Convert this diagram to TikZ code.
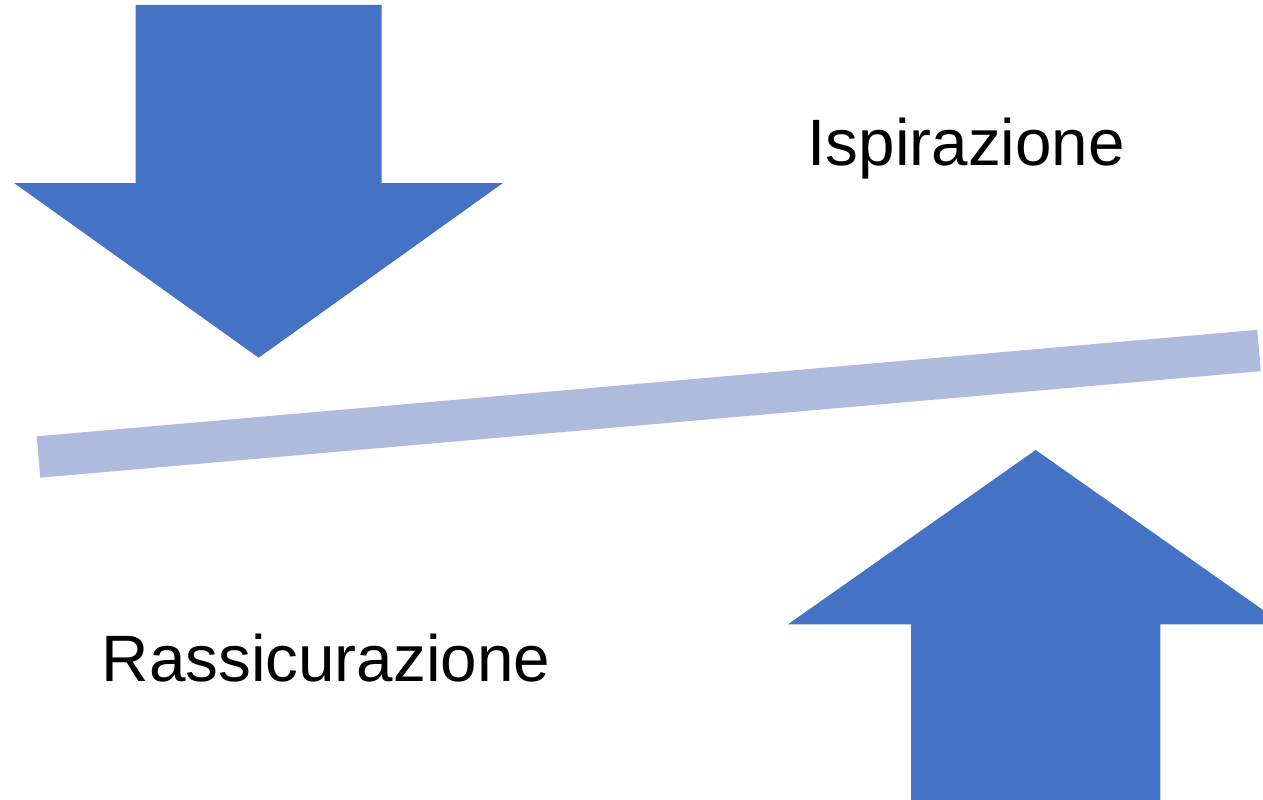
\documentclass[tikz,border=0pt]{standalone}
\usepackage{fontspec}
\setmainfont{Liberation Sans}
\definecolor{arrowblue}{HTML}{4472C4}
\definecolor{barblue}{HTML}{AFBBDC}
\begin{document}
\begin{tikzpicture}[x=1pt,y=-1pt,
  blockarrow/.style={fill=arrowblue,draw=none},
  beam/.style={draw=barblue,line width=41.5pt,line cap=butt},
  label/.style={inner sep=0pt,anchor=base west,font=\fontsize{65.6}{78}\selectfont}]
  \useasboundingbox (0,0) rectangle (1263,800);
  \clip (0,0) rectangle (1263,800);
  % downward arrow, top left
  \fill[blockarrow] (135.5,5) -- (381.7,5) -- (381.7,183) -- (503,183)
    -- (258.7,357.7) -- (14,183) -- (135.5,183) -- cycle;
  % upward arrow, bottom right
  \fill[blockarrow] (911,820) -- (911,624.3) -- (788,624.3) -- (1035.7,450)
    -- (1283.4,624.3) -- (1160.3,624.3) -- (1160.3,820) -- cycle;
  % tilted beam
  \coordinate (beamL) at (38.5,457);
  \coordinate (beamR) at (1259,350.5);
  \draw[beam] (beamL) -- (beamR);
  % labels
  \node[label] (insp) at (807.5,165) {Ispirazione};
  \node[label] (rass) at (101.5,681.7) {Rassicurazione};
\end{tikzpicture}
\end{document}
